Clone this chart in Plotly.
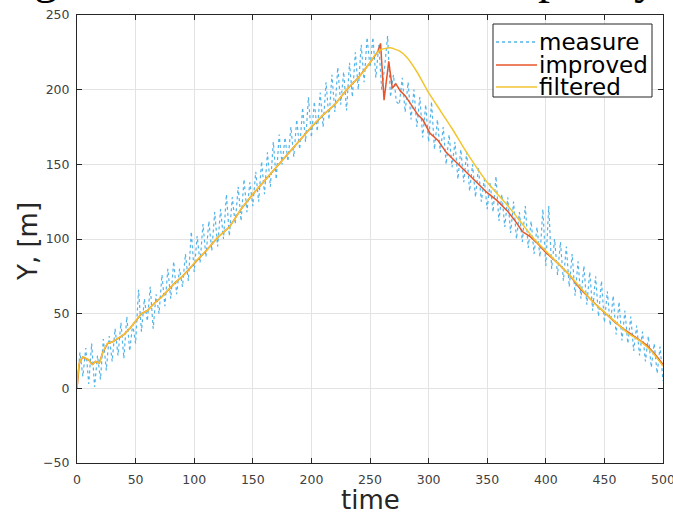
import plotly.graph_objects as go

# ---- data ----
measure_time = [i * 2.5 for i in range(201)]
measure_y = [
    2, 24, 8, 27, 3, 30, 1, 22, 6, 33,
    12, 35, 18, 40, 22, 44, 20, 48, 25, 43,
    30, 66, 38, 60, 45, 68, 40, 63, 50, 76,
    55, 80, 60, 85, 63, 80, 68, 90, 72, 105,
    78, 102, 84, 110, 88, 112, 92, 118, 95, 120,
    100, 130, 102, 128, 110, 135, 112, 140, 118, 138,
    122, 145, 125, 152, 130, 158, 135, 165, 140, 170,
    150, 168, 152, 175, 155, 180, 160, 188, 165, 195,
    168, 192, 172, 198, 175, 205, 180, 210, 185, 215,
    190, 212, 186, 218, 195, 225, 200, 230, 205, 235,
    215, 235, 208, 230, 200, 215, 236, 195, 210, 192,
    190, 208, 185, 205, 180, 200, 175, 195, 168, 190,
    165, 192, 160, 180, 158, 175, 150, 170, 148, 165,
    140, 160, 138, 158, 132, 150, 128, 148, 125, 140,
    120, 138, 118, 142, 112, 130, 108, 128, 104, 125,
    100, 118, 98, 122, 94, 112, 90, 108, 88, 120,
    82, 122, 80, 100, 76, 98, 72, 95, 68, 90,
    62, 85, 60, 82, 56, 78, 52, 75, 48, 72,
    44, 65, 42, 62, 36, 58, 32, 52, 30, 48,
    25, 42, 22, 38, 18, 35, 14, 30, 10, 28,
    5,
]

filtered_time = [0, 2, 5, 8, 10, 13, 16, 19, 22, 26, 30, 34, 40, 45, 50, 55, 60, 66,
                 72, 78, 84, 90, 96, 100, 110, 120, 130, 140, 150, 160, 170, 180, 190,
                 200, 210, 220, 230, 240, 250, 255,
                 260, 267, 275, 281, 290, 300, 310, 320, 330, 340, 350, 360, 370, 380,
                 390, 400, 410, 420, 430, 440, 450, 460, 470, 480, 490, 500]
filtered_y = [0, 17, 21, 20, 19, 16, 18, 17, 24, 30, 31, 33, 36, 40, 45, 50, 52, 57,
              61, 66, 71, 75, 80, 84, 92, 101, 108, 120, 130, 139, 148, 157, 166,
              175, 183, 190, 200, 208, 218, 224,
              227, 228, 226, 222, 212, 198, 186, 174, 161, 149, 138, 129, 120, 110,
              100, 92, 84, 76, 67, 58, 51, 44, 37, 32, 25, 15]

improved_fall_time = [257, 259, 262, 266, 269, 272, 276, 280, 284, 291, 295, 301, 308,
                      315, 324, 332, 341, 350, 358, 367, 374, 380, 386, 393, 400, 410,
                      420, 430, 443, 450, 458, 466, 475, 486, 493, 500]
improved_fall_y = [226, 231, 193, 219, 201, 204, 199, 196, 191, 183, 180, 171, 166,
                   158, 151, 145, 138, 131, 126, 119, 112, 105, 102, 97, 91, 84,
                   76, 66, 56, 51, 45, 40, 35, 29, 23, 16]
improved_time = filtered_time[:40] + improved_fall_time
improved_y = filtered_y[:40] + improved_fall_y

series_names = ["measure", "improved", "filtered"]
x_ticks = [0, 50, 100, 150, 200, 250, 300, 350, 400, 450, 500]
y_ticks = [-50, 0, 50, 100, 150, 200, 250]

FONT = "DejaVu Sans"
AX = "#262626"
W, H = 673, 515
L, R, T, B = 77, 10, 15, 52
PW, PH = W - L - R, H - T - B


def px(x):
    return (x - L) / PW


def py(y):
    return (T + PH - y) / PH


colors = ["#52b4ea", "#e8542a", "#f2c530"]
dashes = ["dot", "solid", "solid"]

fig = go.Figure()
fig.add_trace(go.Scatter(x=measure_time, y=measure_y, mode="lines", name=series_names[0],
                         line=dict(color=colors[0], width=1.2, dash="dot")))
fig.add_trace(go.Scatter(x=improved_time, y=improved_y, mode="lines", name=series_names[1],
                         line=dict(color=colors[1], width=1.5)))
fig.add_trace(go.Scatter(x=filtered_time, y=filtered_y, mode="lines", name=series_names[2],
                         line=dict(color=colors[2], width=1.5, shape="spline", smoothing=0.5)))

axis_common = dict(
    showline=True, linecolor=AX, linewidth=1, mirror="ticks",
    ticks="inside", ticklen=5, tickcolor=AX,
    showgrid=True, gridcolor="#e3e3e3", gridwidth=1, zeroline=False,
    tickfont=dict(family=FONT, size=12.5, color="#404040"),
    automargin=False, ticklabeloverflow="allow",
)
fig.update_xaxes(range=[0, 500], tickvals=x_ticks, ticklabelstandoff=5, **axis_common)
fig.update_yaxes(range=[-50, 250], tickvals=y_ticks, ticklabelstandoff=4, **axis_common)

# axis titles
fig.add_annotation(text="time", xref="paper", yref="paper",
                   x=0.5, y=py(500), xanchor="center", yanchor="middle",
                   showarrow=False, font=dict(family=FONT, size=26, color=AX))
fig.add_annotation(text="Y, [m]", xref="paper", yref="paper",
                   x=px(28), y=py(242), xanchor="center", yanchor="middle",
                   textangle=-90, showarrow=False, font=dict(family=FONT, size=26, color=AX))

# cut-off text of the page above the chart
for txt, xp in [("g", 46), ("p", 550), ("y", 646)]:
    fig.add_annotation(text=txt, xref="paper", yref="paper",
                       x=px(xp), y=py(5), xanchor="center", yanchor="bottom",
                       showarrow=False,
                       font=dict(family="Liberation Serif", size=48, color="black"))

# legend box (MATLAB style, tight rows)
fig.add_shape(type="rect", xref="paper", yref="paper",
              x0=px(493), x1=px(652), y0=py(97), y1=py(24),
              line=dict(color=AX, width=1), fillcolor="white", layer="above")
row_y = [42, 65, 87]
for name, c, d, ry in zip(series_names, colors, dashes, row_y):
    fig.add_shape(type="line", xref="paper", yref="paper",
                  x0=px(496), x1=px(537), y0=py(ry), y1=py(ry),
                  line=dict(color=c, width=1.3, dash=d), layer="above")
    fig.add_annotation(text=name, xref="paper", yref="paper",
                       x=px(537), y=py(ry), xanchor="left", yanchor="middle",
                       showarrow=False, font=dict(family=FONT, size=23, color="black"))

fig.update_layout(
    width=W, height=H,
    margin=dict(l=L, r=R, t=T, b=B),
    paper_bgcolor="white", plot_bgcolor="white",
    showlegend=False,
)

fig.write_html("out.html", config={"displayModeBar": False},
               post_script="document.body.style.margin='0';")
